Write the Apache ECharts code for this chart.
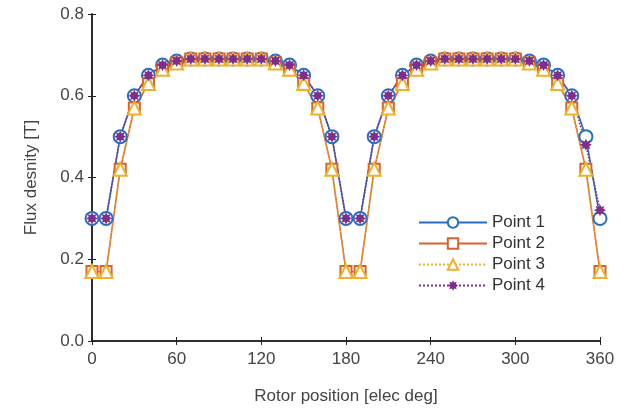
<!DOCTYPE html>
<html>
<head>
<meta charset="utf-8">
<script src="https://cdn.jsdelivr.net/npm/echarts@6/dist/echarts.min.js"></script>
<style>
  html, body { margin: 0; padding: 0; background: #fff; }
  #chart { width: 637px; height: 410px; }
</style>
</head>
<body>
<div id="chart"></div>
<script>
// rotor position, elec deg (every 10 deg)
const positions = [0, 10, 20, 30, 40, 50, 60, 70, 80, 90, 100, 110, 120, 130, 140, 150, 160, 170,
  180, 190, 200, 210, 220, 230, 240, 250, 260, 270, 280, 290, 300, 310, 320, 330, 340, 350, 360]

const point1 = [0.30, 0.30,
  0.50, 0.60, 0.65, 0.675, 0.685, 0.69, 0.69, 0.69, 0.69, 0.69, 0.69, 0.685, 0.675, 0.65, 0.60, 0.50,
  0.30, 0.30,
  0.50, 0.60, 0.65, 0.675, 0.685, 0.69, 0.69, 0.69, 0.69, 0.69, 0.69, 0.685, 0.675, 0.65, 0.60, 0.50,
  0.30]
const point2 = [0.17, 0.17,
  0.42, 0.57, 0.63, 0.665, 0.68, 0.69, 0.69, 0.69, 0.69, 0.69, 0.69, 0.68, 0.665, 0.63, 0.57, 0.42,
  0.17, 0.17,
  0.42, 0.57, 0.63, 0.665, 0.68, 0.69, 0.69, 0.69, 0.69, 0.69, 0.69, 0.68, 0.665, 0.63, 0.57, 0.42,
  0.17]
const point3 = [0.17, 0.17,
  0.42, 0.57, 0.63, 0.665, 0.68, 0.69, 0.69, 0.69, 0.69, 0.69, 0.69, 0.68, 0.665, 0.63, 0.57, 0.42,
  0.17, 0.17,
  0.42, 0.57, 0.63, 0.665, 0.68, 0.69, 0.69, 0.69, 0.69, 0.69, 0.69, 0.68, 0.665, 0.63, 0.57, 0.42,
  0.17]
const point4 = [0.30, 0.30,
  0.50, 0.60, 0.65, 0.675, 0.685, 0.69, 0.69, 0.69, 0.69, 0.69, 0.69, 0.685, 0.675, 0.65, 0.60, 0.50,
  0.30, 0.30,
  0.50, 0.60, 0.65, 0.675, 0.685, 0.69, 0.69, 0.69, 0.69, 0.69, 0.69, 0.685, 0.675, 0.65, 0.60, 0.48,
  0.32]

const xTicks = [0, 60, 120, 180, 240, 300, 360]
const yTicks = [0.0, 0.2, 0.4, 0.6, 0.8]

// asterisk-like star marker
const starPath = (() => {
  const pts = []
  for (let i = 0; i < 16; i++) {
    const r = i % 2 === 0 ? 10 : 6
    const a = (Math.PI / 8) * i - Math.PI / 2
    pts.push((10 + r * Math.cos(a)).toFixed(2) + ' ' + (10 + r * Math.sin(a)).toFixed(2))
  }
  return 'path://M' + pts.join(' L') + ' Z'
})()

const axisColor = '#222'
const labelColor = '#444'
const font = 'Liberation Sans, Arial, sans-serif'

const pair = (ys) => positions.map((x, i) => [x, ys[i]])

const chart = echarts.init(document.getElementById('chart'))
chart.setOption({
  backgroundColor: '#fff',
  animation: false,
  textStyle: { fontFamily: font },
  grid: { left: 92, right: 37, top: 14, bottom: 65 },
  legend: {
    orient: 'vertical',
    left: 413,
    top: 209,
    itemWidth: 68,
    itemHeight: 13,
    itemGap: 4,
    textStyle: { color: '#333', fontSize: 17, fontFamily: font },
    data: ['Point 1', 'Point 2', 'Point 3', 'Point 4']
  },
  xAxis: [
    {
      type: 'value',
      min: xTicks[0],
      max: xTicks[xTicks.length - 1],
      interval: 60,
      name: 'Rotor position [elec deg]',
      nameLocation: 'middle',
      nameGap: 47,
      nameTextStyle: { color: labelColor, fontSize: 17 },
      axisLine: { lineStyle: { color: axisColor, width: 1.5 } },
      axisTick: { inside: true, length: 4, lineStyle: { color: axisColor } },
      axisLabel: { color: labelColor, fontSize: 17, margin: 10 },
      splitLine: { show: false }
    },
    {
      type: 'value',
      position: 'top',
      min: xTicks[0],
      max: xTicks[xTicks.length - 1],
      interval: 60,
      axisLine: { show: true, lineStyle: { color: axisColor, width: 1.5 } },
      axisTick: { inside: true, length: 4, lineStyle: { color: axisColor } },
      axisLabel: { show: false },
      splitLine: { show: false }
    }
  ],
  yAxis: [
    {
      type: 'value',
      min: yTicks[0],
      max: yTicks[yTicks.length - 1],
      interval: 0.2,
      name: 'Flux desnity [T]',
      nameLocation: 'middle',
      nameGap: 52,
      nameTextStyle: { color: labelColor, fontSize: 17 },
      axisLine: { show: true, lineStyle: { color: axisColor, width: 1.5 } },
      axisTick: { show: true, inside: true, length: 4, lineStyle: { color: axisColor } },
      axisLabel: { color: labelColor, fontSize: 17, margin: 8, formatter: (v) => v.toFixed(1) },
      splitLine: { show: false }
    },
    {
      type: 'value',
      position: 'right',
      min: yTicks[0],
      max: yTicks[yTicks.length - 1],
      interval: 0.2,
      axisLine: { show: true, lineStyle: { color: axisColor, width: 1.5 } },
      axisTick: { show: true, inside: true, length: 4, lineStyle: { color: axisColor } },
      axisLabel: { show: false },
      splitLine: { show: false }
    }
  ],
  series: [
    {
      name: 'Point 1',
      type: 'line',
      data: pair(point1),
      symbol: 'emptyCircle',
      symbolSize: 13,
      color: '#2a6dbf',
      lineStyle: { width: 1.6 },
      itemStyle: { borderWidth: 1.5 }
    },
    {
      name: 'Point 2',
      type: 'line',
      data: pair(point2),
      symbol: 'emptyRect',
      symbolSize: 11,
      color: '#d9622b',
      lineStyle: { width: 1.6 },
      itemStyle: { borderWidth: 1.5 }
    },
    {
      name: 'Point 3',
      type: 'line',
      data: pair(point3),
      symbol: 'emptyTriangle',
      symbolSize: 13,
      color: '#eeb12a',
      lineStyle: { width: 1.2, type: 'dotted' },
      itemStyle: { borderWidth: 1.5 }
    },
    {
      name: 'Point 4',
      type: 'line',
      data: pair(point4),
      symbol: starPath,
      symbolSize: 12,
      color: '#7e2f8e',
      lineStyle: { width: 1.6, type: 'dotted' },
      itemStyle: { color: '#7e2f8e', borderWidth: 1 }
    }
  ]
})
</script>
</body>
</html>
